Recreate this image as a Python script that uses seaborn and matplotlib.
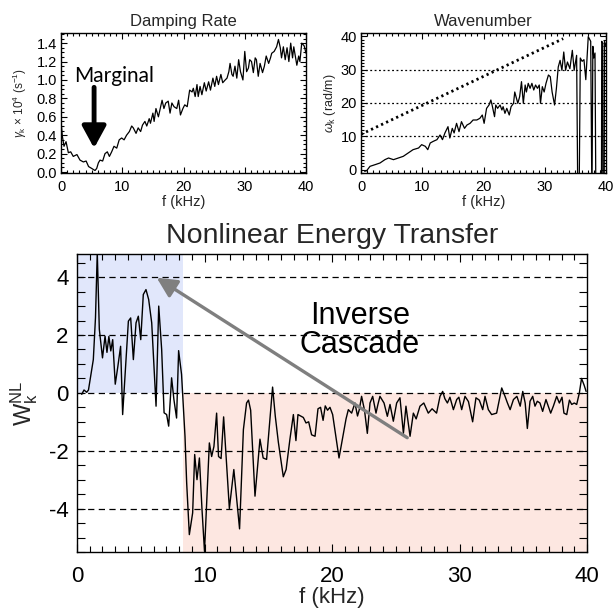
import numpy as np
import pandas as pd
import matplotlib
matplotlib.use("Agg")
import matplotlib.pyplot as plt
from matplotlib.ticker import MultipleLocator
import seaborn as sns

# ---------------- data ----------------
# Damping rate (gamma_k x 1e4, s^-1) vs f (kHz)
damp_f = [0.0, 0.22, 0.49, 0.82, 1.2, 1.58, 2.0, 2.6, 3.1, 3.65, 4.1, 4.5, 5.0, 5.55, 5.83, 6.1,
          6.37, 6.8, 7.18, 7.56, 7.9, 8.27, 8.65, 9.1, 9.5, 9.9, 10.3, 10.7, 11.16, 11.54, 11.8,
          12.25, 12.6, 13.0, 13.3, 13.7, 14.0, 14.4, 14.6, 15.0, 15.2, 15.5, 15.9, 16.2, 16.5,
          16.8, 17.1, 17.5, 17.8, 18.1, 18.45, 18.9, 19.2, 19.5, 19.9, 20.2, 20.6, 21.0, 21.4,
          21.6, 21.9, 22.2, 22.4, 22.7, 23.0, 23.4, 23.7, 24.1, 24.4, 24.8, 25.1, 25.4, 25.7,
          26.1, 26.4, 26.8, 27.1, 27.4, 27.6, 27.9, 28.1, 28.4, 28.7, 29.0, 29.3, 29.7, 30.0,
          30.3, 30.6, 30.8, 31.1, 31.4, 31.7, 31.9, 32.2, 32.5, 32.9, 33.2, 33.5, 33.9, 34.2,
          34.4, 34.8, 35.2, 35.5, 35.8, 36.0, 36.3, 36.6, 36.9, 37.2, 37.5, 37.8, 38.0, 38.5,
          38.8, 39.0, 39.3, 39.7, 40.0]
damp_g = [0.55, 0.39, 0.28, 0.33, 0.21, 0.22, 0.17, 0.19, 0.13, 0.11, 0.12, 0.06, 0.04, 0.017,
          0.04, 0.10, 0.13, 0.12, 0.20, 0.22, 0.17, 0.22, 0.28, 0.26, 0.35, 0.37, 0.35, 0.40,
          0.44, 0.50, 0.48, 0.42, 0.48, 0.44, 0.51, 0.55, 0.50, 0.58, 0.53, 0.64, 0.55, 0.69,
          0.60, 0.69, 0.78, 0.69, 0.75, 0.77, 0.64, 0.75, 0.71, 0.69, 0.78, 0.62, 0.69, 0.73,
          0.71, 0.89, 0.87, 0.91, 0.82, 0.95, 0.82, 0.93, 0.84, 0.97, 0.88, 0.98, 0.89, 1.02,
          0.93, 1.04, 0.95, 1.06, 0.97, 1.00, 1.02, 1.09, 1.18, 1.06, 1.04, 1.15, 1.02, 1.22,
          1.09, 1.00, 1.31, 1.09, 1.13, 1.22, 1.20, 1.08, 1.24, 1.22, 1.04, 1.18, 1.08, 1.15,
          1.26, 1.18, 1.24, 1.29, 1.31, 1.36, 1.44, 1.35, 1.24, 1.36, 1.22, 1.35, 1.20, 1.40,
          1.24, 1.36, 1.16, 1.26, 1.20, 1.40, 1.37, 1.29]

# Wavenumber (rad/m) vs f (kHz); -10 marks dips far below the axis
wave_f = [0.6, 0.93, 1.47, 2.3, 3.1, 3.9, 4.5, 5.3, 6.1, 6.9, 7.7, 8.5, 9.4, 9.9, 10.5, 10.9,
          11.3, 11.8, 12.4, 12.9, 13.3, 13.7, 14.2, 14.5, 14.9, 15.2, 15.6, 16.0, 16.4, 16.9,
          17.3, 17.8, 18.3, 18.9, 19.4, 19.8, 20.1, 20.5, 20.9, 21.2, 21.4, 21.8, 22.0, 22.3,
          22.7, 23.0, 23.2, 23.5, 23.8, 24.2, 24.5, 24.9, 25.1, 25.6, 25.9, 26.2, 26.5, 26.8,
          27.0, 27.3, 27.6, 27.9, 28.2, 28.5, 28.8, 29.1, 29.3, 29.6, 29.9, 30.2, 30.6, 30.9,
          31.2, 31.6, 31.9, 32.2, 32.5, 32.8, 33.1, 33.4, 33.7, 34.1, 34.5, 34.8, 35.2, 35.4,
          35.6, 35.8, 36.1, 36.4, 36.7, 37.1, 37.5, 37.7, 37.85, 38.0, 38.2, 38.35, 39.25,
          39.3, 39.45, 39.5, 39.7, 39.75, 40.0]
wave_k = [-0.5, -0.3, 1.0, 1.5, 2.0, 3.0, 3.5, 3.0, 3.5, 4.0, 5.0, 6.0, 6.5, 7.5, 7.0, 6.0,
          8.0, 8.5, 9.0, 10.4, 9.0, 11.0, 12.9, 9.5, 12.4, 11.0, 13.9, 11.4, 14.4, 12.4, 13.4,
          13.9, 14.9, 14.9, 15.4, 16.4, 13.9, 18.4, 19.4, 20.9, 19.4, 15.9, 19.4, 18.4, 19.4,
          17.9, 18.9, 16.9, 18.4, 16.4, 18.9, 19.9, 23.3, 19.9, 21.9, 26.4, 19.9, 25.4, 23.3,
          25.9, 24.4, 25.9, 23.9, 25.4, 24.4, 25.4, 19.9, 24.9, 23.3, 25.9, 28.4, 27.9, 23.3,
          19.4, 24.4, 30.8, 32.8, 29.8, 35.3, 29.8, 32.3, 30.3, 35.8, 29.8, 34.3, -10.0, -10.0,
          33.5, 32.5, 33.0, 27.0, 39.9, 38.5, -10.0, 37.0, 33.5, 35.0, -10.0, -10.0, 38.5, 38.0,
          -10.0, -10.0, 38.5, 37.0]
# dotted reference line end points (f, k)
ref_f = [0.0, 33.0]
ref_k = [10.6, 39.3]

# Nonlinear energy transfer W_k^NL vs f (kHz)
nl_f = [0.37, 0.55, 0.76, 0.9, 1.07, 1.28, 1.45, 1.59, 1.75, 2.0, 2.2, 2.35, 2.5, 2.65, 2.8,
        3.0, 3.2, 3.42, 3.58, 3.84, 4.03, 4.21, 4.42, 4.63, 4.81, 5.0, 5.2, 5.41, 5.62, 5.86,
        6.2, 6.41, 6.64, 6.83, 7.03, 7.19, 7.42, 7.6, 7.81, 7.97, 8.2, 8.47, 8.6, 8.81, 9.07,
        9.23, 9.41, 9.6, 9.8, 10.0, 10.38, 10.56, 10.74, 10.95, 11.1, 11.3, 11.5, 11.95, 12.3,
        12.75, 13.05, 13.3, 13.45, 13.62, 13.96, 14.35, 14.6, 14.87, 15.34, 15.55, 15.79,
        16.18, 16.4, 16.7, 16.97, 17.17, 17.33, 17.54, 17.75, 17.96, 18.17, 18.4, 18.67, 18.9,
        19.1, 19.3, 19.47, 19.65, 19.84, 20.05, 20.3, 20.55, 20.9, 21.1, 21.28, 21.54, 21.8,
        22.0, 22.14, 22.32, 22.55, 22.77, 22.98, 23.19, 23.45, 23.6, 23.76, 24.08, 24.34,
        24.55, 24.81, 25.07, 25.33, 25.6, 25.8, 26.12, 26.38, 26.6, 26.9, 27.2, 27.55, 27.85,
        28.2, 28.47, 28.68, 28.85, 29.05, 29.25, 29.52, 29.78, 29.95, 30.17, 30.43, 30.7,
        31.03, 31.29, 31.55, 31.82, 32.0, 32.26, 32.52, 32.91, 33.31, 33.57, 33.76, 33.97,
        34.23, 34.5, 34.76, 34.96, 35.15, 35.32, 35.53, 35.74, 35.92, 36.1, 36.31, 36.52,
        36.78, 36.96, 37.15, 37.36, 37.62, 37.83, 38.04, 38.19, 38.41, 38.62, 38.8, 39.0,
        39.19, 39.4, 39.57, 39.77, 39.93]
nl_w = [-0.05, 0.1, 0.02, 0.1, 0.57, 1.15, 2.6, 4.85, 2.2, 1.21, 1.96, 1.4, 1.95, 1.45, 1.84,
        0.3, 0.9, 1.61, -0.75, 1.15, 2.48, 2.59, 1.15, 2.42, 2.65, 1.84, 3.4, 3.57, 3.23, 2.42,
        -0.46, 3.0, 1.5, -0.69, -0.75, -1.15, 0.52, -0.23, -0.87, 1.46, 0.64, -1.5, -3.1, -4.9,
        -4.15, -2.13, -3.0, -2.25, -4.0, -5.48, -1.73, -2.2, -1.85, -0.7, -2.2, -2.27, -0.83,
        -4.0, -2.65, -4.7, -1.27, -0.35, -0.25, -0.6, -3.57, -1.6, -2.25, -2.3, 0.2, -0.8,
        -1.7, -2.9, -2.65, -1.6, -0.75, -1.65, -0.75, -0.8, -0.85, -1.04, -1.0, -1.45, -1.5,
        -0.55, -0.5, -0.95, -0.45, -0.6, -0.5, -0.75, -1.5, -2.25, -1.4, -0.9, -0.58, -0.7,
        -0.35, -0.8, -0.58, -0.12, -0.6, -1.4, -0.35, -0.12, -0.7, -0.4, -0.12, -0.35, -0.81,
        -0.4, -0.98, -0.35, -0.17, -1.4, -0.46, -1.5, -0.7, -0.9, -0.46, -0.35, -0.7, -0.55,
        -0.7, -0.12, 0.05, -0.2, -0.35, -0.15, -0.58, -0.23, -0.15, -0.58, -0.12, -0.3, -1.0,
        -0.17, -0.25, -0.58, -0.12, -0.58, -0.75, -0.7, 0.17, -0.12, -0.35, -0.58, -0.23,
        -0.12, -0.46, 0.05, -0.35, -1.23, -0.29, -0.12, -0.46, -0.29, -0.35, -0.64, -0.23,
        -0.46, -0.7, -0.46, -0.12, -0.35, -0.15, -0.7, -0.75, -0.25, -0.4, -0.35, -0.4, 0.0,
        0.5, 0.27, 0.05]

nl_yticks = [-4, -2, 0, 2, 4]
f_ticks = [0, 10, 20, 30, 40]

# ---------------- style ----------------
sns.set_theme(style="white")
plt.rcParams["font.family"] = ["Liberation Sans", "DejaVu Sans"]
plt.rcParams["axes.unicode_minus"] = False
plt.rcParams["axes.edgecolor"] = "black"
plt.rcParams["axes.linewidth"] = 1.0
plt.rcParams["mathtext.fontset"] = "custom"
plt.rcParams["mathtext.rm"] = "Liberation Sans"
plt.rcParams["mathtext.it"] = "Liberation Sans:italic"

fig = plt.figure(figsize=(6.15, 6.10), dpi=100)
ax1 = fig.add_axes([0.0992, 0.7164, 0.3984, 0.2295])
ax2 = fig.add_axes([0.5870, 0.7164, 0.3984, 0.2295])
ax3 = fig.add_axes([0.1252, 0.0951, 0.8293, 0.4885])

def style_ticks(ax, xsize, ysize, maj_len, min_len):
    ax.tick_params(which="both", direction="in", top=True, right=True,
                   bottom=True, left=True, colors="black", width=0.8)
    ax.tick_params(axis="x", labelsize=xsize)
    ax.tick_params(axis="y", labelsize=ysize)
    ax.tick_params(which="major", length=maj_len)
    ax.tick_params(which="minor", length=min_len)
    for s in ax.spines.values():
        s.set_color("black")
        s.set_linewidth(1.0)

# ---- Damping rate ----
df1 = pd.DataFrame({"f": damp_f, "g": damp_g})
sns.lineplot(data=df1, x="f", y="g", ax=ax1, color="black", lw=0.9, estimator=None, sort=False)
ax1.set_xlim(0, 40)
ax1.set_ylim(-0.01, 1.51)
ax1.set_xticks(f_ticks)
ax1.set_yticks([0.0, 0.2, 0.4, 0.6, 0.8, 1.0, 1.2, 1.4])
ax1.set_yticklabels(["0.0", "0.2", "0.4", "0.6", "0.8", "1.0", "1.2", "1.4"])
ax1.xaxis.set_minor_locator(MultipleLocator(1))
ax1.yaxis.set_minor_locator(MultipleLocator(0.05))
style_ticks(ax1, 10.5, 10.5, 4, 2)
ax1.tick_params(axis="x", pad=5)
ax1.tick_params(axis="y", pad=3)
ax1.set_title("Damping Rate", fontsize=12, pad=5)
ax1.set_xlabel("f (kHz)", fontsize=10.5)
ax1.set_ylabel(r"$\gamma_\mathrm{k}$ × 10$^4$ (s$^{-1}$)", fontsize=8.5)
ax1.xaxis.set_label_coords(0.5, -0.155)
ax1.yaxis.set_label_coords(-0.13, 0.5)
ax1.annotate("", xy=(5.4, 0.26), xytext=(5.4, 0.92),
             arrowprops=dict(arrowstyle="-|>,head_length=0.55,head_width=0.3",
                             lw=3.5, color="black", mutation_scale=24, shrinkA=0, shrinkB=0))
ax1.text(8.6, 1.04, "Marginal", fontsize=15, family=["Lato", "DejaVu Sans"],
         ha="center", va="center", color="black")

# ---- Wavenumber ----
df2 = pd.DataFrame({"f": wave_f, "k": wave_k})
for yv in [10, 20, 30]:
    ax2.axhline(yv, color="black", lw=0.9, ls=(0, (1.5, 2)), zorder=1)
sns.lineplot(x=ref_f, y=ref_k, ax=ax2, color="black", lw=2.0, ls=(0, (0.8, 1.2)),
             estimator=None, sort=False)
sns.lineplot(data=df2, x="f", y="k", ax=ax2, color="black", lw=0.9, estimator=None, sort=False)
ax2.set_xlim(0, 40)
ax2.set_ylim(-1, 41)
ax2.set_xticks(f_ticks)
ax2.set_yticks([0, 10, 20, 30, 40])
ax2.xaxis.set_minor_locator(MultipleLocator(1))
ax2.yaxis.set_minor_locator(MultipleLocator(1))
style_ticks(ax2, 10.5, 10.5, 4, 2)
ax2.tick_params(axis="x", pad=5)
ax2.tick_params(axis="y", pad=3)
ax2.set_title("Wavenumber", fontsize=12, pad=5)
ax2.set_xlabel("f (kHz)", fontsize=10.5)
ax2.set_ylabel(r"$\omega_\mathrm{k}$ (rad/m)", fontsize=9)
ax2.xaxis.set_label_coords(0.5, -0.155)
ax2.yaxis.set_label_coords(-0.092, 0.5)

# ---- Nonlinear energy transfer ----
ax3.set_xlim(0, 40)
ax3.set_ylim(-5.5, 4.8)
ax3.fill_between([0, 8.29], 0, 4.8, color="#E1E7FB", lw=0, zorder=0)
ax3.fill_between([8.29, 40], -5.5, 0, color="#FDE7E1", lw=0, zorder=0)
for yv in nl_yticks:
    ax3.axhline(yv, color="black", lw=0.9, ls=(0, (5, 3.5)), zorder=1)
df3 = pd.DataFrame({"f": nl_f, "w": nl_w})
sns.lineplot(data=df3, x="f", y="w", ax=ax3, color="black", lw=1.0, estimator=None, sort=False)
ax3.set_xticks(f_ticks)
ax3.set_yticks(nl_yticks)
ax3.xaxis.set_minor_locator(MultipleLocator(1))
ax3.yaxis.set_minor_locator(MultipleLocator(0.5))
style_ticks(ax3, 16, 16, 6, 4)
ax3.tick_params(axis="y", which="minor", length=6)
ax3.tick_params(axis="x", pad=10)
ax3.tick_params(axis="y", pad=6)
ax3.set_title("Nonlinear Energy Transfer", fontsize=20.5, pad=8)
ax3.set_xlabel("f (kHz)", fontsize=16)
ax3.set_ylabel(r"W$_\mathrm{k}^\mathrm{NL}$", fontsize=17)
ax3.xaxis.set_label_coords(0.5, -0.118)
ax3.yaxis.set_label_coords(-0.072, 0.5)
ax3.annotate("", xy=(6.25, 3.98), xytext=(25.9, -1.55),
             arrowprops=dict(arrowstyle="-|>,head_length=0.6,head_width=0.3",
                             lw=2.4, color="#7F7F7F", mutation_scale=20, shrinkA=0, shrinkB=0),
             zorder=3)
ax3.text(22.2, 2.65, "Inverse", fontsize=22, ha="center", va="center", color="black")
ax3.text(22.2, 1.67, "Cascade", fontsize=22, ha="center", va="center", color="black")

fig.savefig("out.png", dpi=100)
